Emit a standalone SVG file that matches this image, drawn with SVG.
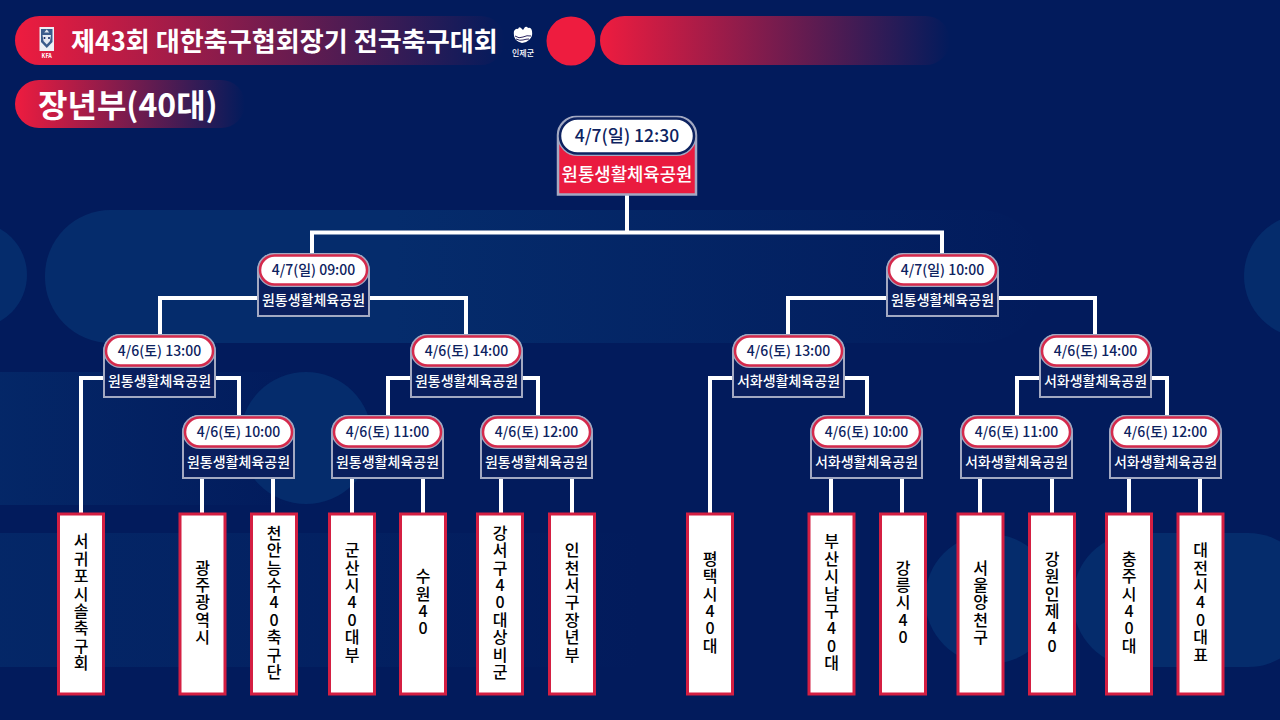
<svg xmlns="http://www.w3.org/2000/svg" width="1280" height="720" viewBox="0 0 1280 720">
<style>
text{font-family:"Noto Sans CJK KR","Noto Sans",sans-serif}
.c{fill:none;stroke:#fff;stroke-width:4;stroke-linejoin:miter}
.o{fill:#0a1f5e;stroke:#a3a9c2;stroke-width:2}
.h{fill:none;stroke:#a3a9c2;stroke-width:5}
.p{fill:#fff;stroke:#d42a4c;stroke-width:2.5}
.d{font-size:14px;font-weight:500;fill:#0d2260;text-anchor:middle}
.v{font-size:14px;font-weight:500;fill:#fff;text-anchor:middle}
.l{fill:#fff;stroke:#d41f42;stroke-width:3}
.t{font-size:16px;font-weight:500;fill:#000;text-anchor:middle;writing-mode:vertical-rl;text-orientation:upright;letter-spacing:1.4px}
</style>
<defs>
<linearGradient id="g1" x1="0" x2="1" y1="0" y2="0"><stop offset="0" stop-color="#ee1c3f"/><stop offset="1" stop-color="#ee1c3f" stop-opacity="0"/></linearGradient>
<linearGradient id="b1" x1="0" x2="1" y1="0" y2="0"><stop offset="0" stop-color="#052c6c"/><stop offset=".35" stop-color="#052c6c"/><stop offset="1" stop-color="#052c6c" stop-opacity="0"/></linearGradient>
<linearGradient id="b2" x1="0" x2="1" y1="0" y2="0"><stop offset="0" stop-color="#052c6c" stop-opacity=".7"/><stop offset="1" stop-color="#052c6c" stop-opacity="0"/></linearGradient>
<path id="m" class="o" d="M0 62H111V16A16 16 0 0 0 95 0H16A16 16 0 0 0 0 16Z"/>
<g id="q"><rect class="h" x="2" y="1.5" width="107" height="29" rx="14.5"/><rect class="p" x="2" y="1.5" width="107" height="29" rx="14.5"/></g>
</defs>
<rect width="1280" height="720" fill="#021b5c"/>
<g id="background">
<rect fill="url(#b1)" x="45" y="210" width="1000" height="133" rx="66"/>
<circle fill="#052c6c" cx="-26" cy="275" r="53"/>
<circle fill="#052c6c" cx="1306" cy="276" r="62"/>
<rect fill="url(#b2)" x="0" y="372" width="300" height="133"/>
<circle fill="#052c6c" cx="306" cy="438" r="66"/>
<rect fill="url(#b2)" x="0" y="533" width="640" height="134"/>
<circle fill="#052c6c" cx="990" cy="599" r="65"/>
<rect fill="#052c6c" x="1073" y="533" width="240" height="134" rx="65"/>
</g>
<g id="header">
<rect x="15" y="16" width="490" height="49" rx="24.5" fill="url(#g1)"/>
<rect x="15" y="80" width="230" height="48" rx="24" fill="url(#g1)"/>
<circle cx="571" cy="41" r="24.500" fill="#ee1c3f"/>
<rect x="600" y="16" width="350" height="49" rx="24.5" fill="url(#g1)"/>
<g id="kfa-emblem">
<rect x="39.500" y="27" width="14.500" height="24" fill="#eef0f6"/>
<path d="M41 29H52.500V42L46.750 48 41 42Z" fill="#3b5c8c"/>
<path d="M46.750 29.500l2.500 3h-5ZM42.500 35h8.500l-1 6-3.250 3.500-3.250-3.500Z" fill="#e4e9f2"/>
<circle cx="44.500" cy="38" r="1" fill="#0d2260"/><circle cx="49" cy="38" r="1" fill="#0d2260"/>
<text x="46.750" y="58" font-size="5.500" font-weight="700" fill="#fff" text-anchor="middle">KFA</text>
</g>
<text x="71" y="50.500" font-size="26.100" font-weight="700" fill="#fff">제43회 대한축구협회장기 전국축구대회</text>
<text x="38" y="117" font-size="32" font-weight="700" fill="#fff">장년부(40대)</text>
<g id="inje-logo">
<path d="M514 31q2-3 4-2 1-3 3-1l2 2 2-3q2-1 3 1 3-1 4 3 1 6-3 9-3 3-7 3-4-1-6-3-3-4-2-9Z" fill="#fff"/>
<path d="M515 36q4 3 8 1t8-1M516 39q4 2 7 1t6-1" fill="none" stroke="#2a2460" stroke-width="1"/>
<text x="523" y="55.500" font-size="8" font-weight="500" fill="#fff" text-anchor="middle">인제군</text>
</g>
</g>
<g id="connectors">
<path class="c" d="M627 195V232.500M312 254V232.500H942V254"/>
<path class="c" d="M258 298H160V335M368 298H466V335M887 298H788V335M997 298H1095V335"/>
<path class="c" d="M104 378H81V513M215 378H239V416M411 378H388V416M522 378H538V416M734 378H710V513M844 378H867V416M1040 378H1017V416M1150 378H1167V416"/>
<path class="c" d="M202 477V513M273 477V513M352 477V513M423 477V513M501 477V513M572 477V513M831 477V513M902 477V513M980 477V513M1052 477V513M1129 477V513M1200 477V513"/>
</g>
<g id="n-final">
<path d="M558 194.500H696V135A18 18 0 0 0 678 117H576A18 18 0 0 0 558 135Z" fill="#ea1b3f" stroke="#a3a9c2" stroke-width="2.500"/>
<rect x="560" y="118.500" width="134" height="35" rx="17.500" fill="none" stroke="#a3a9c2" stroke-width="5"/>
<rect x="560" y="118.500" width="134" height="35" rx="17.500" fill="#fff" stroke="#0d2260" stroke-width="2.500"/>
<text x="627" y="142" font-size="17.500" font-weight="500" fill="#0d2260" text-anchor="middle">4/7(일) 12:30</text>
<text x="627" y="181" font-size="17.800" font-weight="500" fill="#fff" text-anchor="middle">원통생활체육공원</text>
</g>
<g id="n-sf1" transform="translate(258 254)"><use href="#m"/><use href="#q"/><text class="d" x="55.500" y="21">4/7(일) 09:00</text><text class="v" x="55.500" y="50.500">원통생활체육공원</text></g>
<g id="n-sf2" transform="translate(887 254)"><use href="#m"/><use href="#q"/><text class="d" x="55.500" y="21">4/7(일) 10:00</text><text class="v" x="55.500" y="50.500">원통생활체육공원</text></g>
<g id="n-q1" transform="translate(104 335)"><use href="#m"/><use href="#q"/><text class="d" x="55.500" y="21">4/6(토) 13:00</text><text class="v" x="55.500" y="50.500">원통생활체육공원</text></g>
<g id="n-q2" transform="translate(411 335)"><use href="#m"/><use href="#q"/><text class="d" x="55.500" y="21">4/6(토) 14:00</text><text class="v" x="55.500" y="50.500">원통생활체육공원</text></g>
<g id="n-q3" transform="translate(733 335)"><use href="#m"/><use href="#q"/><text class="d" x="55.500" y="21">4/6(토) 13:00</text><text class="v" x="55.500" y="50.500">서화생활체육공원</text></g>
<g id="n-q4" transform="translate(1040 335)"><use href="#m"/><use href="#q"/><text class="d" x="55.500" y="21">4/6(토) 14:00</text><text class="v" x="55.500" y="50.500">서화생활체육공원</text></g>
<g id="n-r1" transform="translate(183 416)"><use href="#m"/><use href="#q"/><text class="d" x="55.500" y="21">4/6(토) 10:00</text><text class="v" x="55.500" y="50.500">원통생활체육공원</text></g>
<g id="n-r2" transform="translate(332 416)"><use href="#m"/><use href="#q"/><text class="d" x="55.500" y="21">4/6(토) 11:00</text><text class="v" x="55.500" y="50.500">원통생활체육공원</text></g>
<g id="n-r3" transform="translate(481 416)"><use href="#m"/><use href="#q"/><text class="d" x="55.500" y="21">4/6(토) 12:00</text><text class="v" x="55.500" y="50.500">원통생활체육공원</text></g>
<g id="n-r4" transform="translate(811 416)"><use href="#m"/><use href="#q"/><text class="d" x="55.500" y="21">4/6(토) 10:00</text><text class="v" x="55.500" y="50.500">서화생활체육공원</text></g>
<g id="n-r5" transform="translate(961 416)"><use href="#m"/><use href="#q"/><text class="d" x="55.500" y="21">4/6(토) 11:00</text><text class="v" x="55.500" y="50.500">서화생활체육공원</text></g>
<g id="n-r6" transform="translate(1110 416)"><use href="#m"/><use href="#q"/><text class="d" x="55.500" y="21">4/6(토) 12:00</text><text class="v" x="55.500" y="50.500">서화생활체육공원</text></g>
<g id="t1"><rect class="l" x="58.500" y="514" width="45" height="180"/><text class="t" x="81" y="603">서귀포시솔축구회</text></g>
<g id="t2"><rect class="l" x="180" y="514" width="45" height="180"/><text class="t" x="202.500" y="603">광주광역시</text></g>
<g id="t3"><rect class="l" x="251.500" y="514" width="45" height="180"/><text class="t" x="274" y="603">천안능수40축구단</text></g>
<g id="t4"><rect class="l" x="329.500" y="514" width="45" height="180"/><text class="t" x="352" y="603">군산시40대부</text></g>
<g id="t5"><rect class="l" x="400.500" y="514" width="45" height="180"/><text class="t" x="423" y="603">수원40</text></g>
<g id="t6"><rect class="l" x="477.500" y="514" width="45" height="180"/><text class="t" x="500" y="603">강서구40대상비군</text></g>
<g id="t7"><rect class="l" x="549.500" y="514" width="45" height="180"/><text class="t" x="572" y="603">인천서구장년부</text></g>
<g id="t8"><rect class="l" x="687.500" y="514" width="45" height="180"/><text class="t" x="710" y="603">평택시40대</text></g>
<g id="t9"><rect class="l" x="809" y="514" width="45" height="180"/><text class="t" x="831.500" y="603">부산시남구40대</text></g>
<g id="t10"><rect class="l" x="880.500" y="514" width="45" height="180"/><text class="t" x="903" y="603">강릉시40</text></g>
<g id="t11"><rect class="l" x="958" y="514" width="45" height="180"/><text class="t" x="980.500" y="603">서울양천구</text></g>
<g id="t12"><rect class="l" x="1029.500" y="514" width="45" height="180"/><text class="t" x="1052" y="603">강원인제40</text></g>
<g id="t13"><rect class="l" x="1106.500" y="514" width="45" height="180"/><text class="t" x="1129" y="603">충주시40대</text></g>
<g id="t14"><rect class="l" x="1178" y="514" width="45" height="180"/><text class="t" x="1200.500" y="603">대전시40대표</text></g>
</svg>
